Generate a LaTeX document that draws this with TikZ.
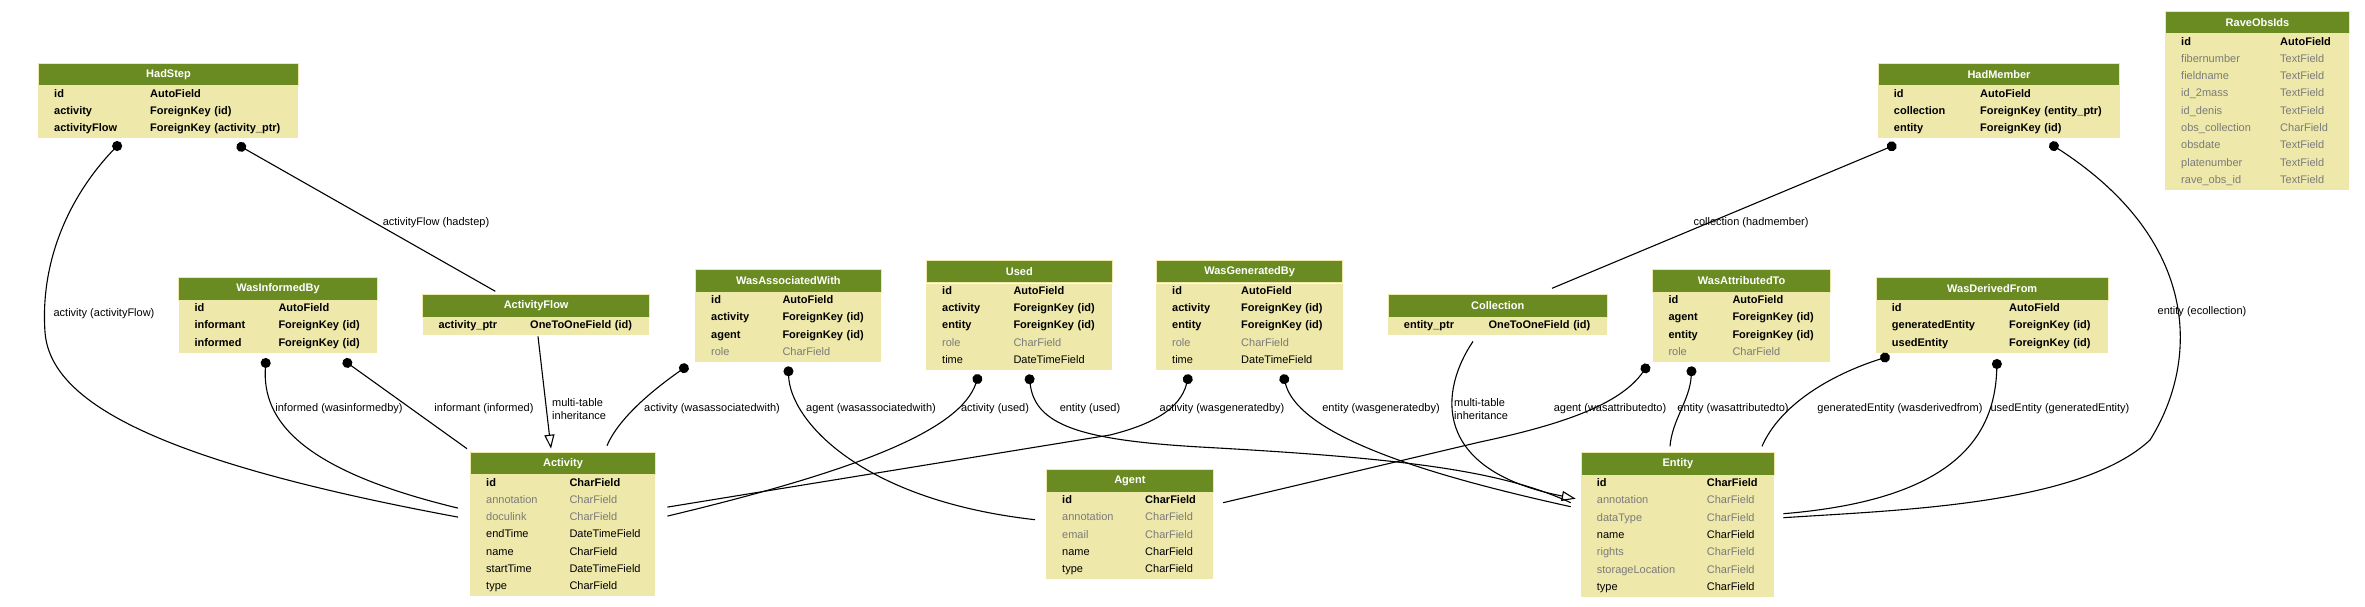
\documentclass[tikz,border=0pt]{standalone}
\usepackage{fontspec}
\setmainfont{Liberation Sans}
\usetikzlibrary{arrows.meta}
\definecolor{headfill}{HTML}{698B22}
\definecolor{bodyfill}{HTML}{EEE8AA}
\definecolor{blankgray}{HTML}{7B7B7B}
\newcommand{\rowfont}{\fontsize{11}{17.3}\selectfont}
\newcommand{\labelfont}{\fontsize{11}{12.5}\selectfont}
\newcommand{\keyrow}[2]{\textbf{#1} & \textbf{#2}\\}
\newcommand{\fieldrow}[2]{#1 & #2\\}
\newcommand{\blankrow}[2]{\textcolor{blankgray}{#1} & \textcolor{blankgray}{#2}\\}
\tikzset{
  modelhead/.style={draw=bodyfill, line width=1pt, fill=headfill, text=white,
    font=\bfseries\fontsize{11}{13}\selectfont, minimum height=22.4pt, inner sep=0pt, anchor=north west},
  modelbody/.style={fill=bodyfill, inner xsep=0pt, inner ysep=0pt, anchor=north west, font=\rowfont, align=left},
  fkedge/.style={line width=1.1pt, arrows={Circle[length=10pt]-}},
  inhedge/.style={line width=1.1pt, arrows={-Triangle[open, length=14pt, width=10pt]}},
  fklabel/.style={font=\labelfont, inner sep=0pt}
}
% #1 name, #2 top left, #3 width, #4 first column, #5 title, #6 rows
\newcommand{\djmodel}[6]{%
  \node[modelhead, minimum width=#3] (#1) at #2 {#5};
  \node[modelbody, text width=#3] (#1-body) at (#1.south west)
    {\noindent\raisebox{1.4pt}[\height][\depth]{\begin{tabular}{@{\hspace{16pt}}p{#4}@{}l@{}}#6\end{tabular}}};
}
\begin{document}
\begin{tikzpicture}[x=1pt, y=-1pt]
	\useasboundingbox (0,0) rectangle (2365,607);
	\djmodel{hadstep}{(38,62.7)}{260pt}{96pt}{HadStep}{\keyrow{id}{AutoField}\keyrow{activity}{ForeignKey (id)}\keyrow{activityFlow}{ForeignKey (activity\_ptr)}}
	\djmodel{wasinformedby}{(178.3,277.3)}{198.4pt}{84pt}{WasInformedBy}{\keyrow{id}{AutoField}\keyrow{informant}{ForeignKey (id)}\keyrow{informed}{ForeignKey (id)}}
	\djmodel{activityflow}{(422.3,294.3)}{226.7pt}{91.7pt}{ActivityFlow}{\keyrow{activity\_ptr}{OneToOneField (id)}}
	\djmodel{wasassociatedwith}{(695,269.3)}{185.7pt}{71.3pt}{WasAssociatedWith}{\keyrow{id}{AutoField}\keyrow{activity}{ForeignKey (id)}\keyrow{agent}{ForeignKey (id)}\blankrow{role}{CharField}}
	\djmodel{used}{(926,260)}{185.7pt}{71.3pt}{Used}{\keyrow{id}{AutoField}\keyrow{activity}{ForeignKey (id)}\keyrow{entity}{ForeignKey (id)}\blankrow{role}{CharField}\fieldrow{time}{DateTimeField}}
	\djmodel{wasgeneratedby}{(1156,260)}{186.3pt}{69pt}{WasGeneratedBy}{\keyrow{id}{AutoField}\keyrow{activity}{ForeignKey (id)}\keyrow{entity}{ForeignKey (id)}\blankrow{role}{CharField}\fieldrow{time}{DateTimeField}}
	\djmodel{collection}{(1387.7,294.3)}{219pt}{84.6pt}{Collection}{\keyrow{entity\_ptr}{OneToOneField (id)}}
	\djmodel{wasattributedto}{(1652.3,269.3)}{177.7pt}{64pt}{WasAttributedTo}{\keyrow{id}{AutoField}\keyrow{agent}{ForeignKey (id)}\keyrow{entity}{ForeignKey (id)}\blankrow{role}{CharField}}
	\djmodel{wasderivedfrom}{(1875.7,277.3)}{232pt}{117.3pt}{WasDerivedFrom}{\keyrow{id}{AutoField}\keyrow{generatedEntity}{ForeignKey (id)}\keyrow{usedEntity}{ForeignKey (id)}}
	\djmodel{hadmember}{(1877.7,62.7)}{241.6pt}{86.3pt}{HadMember}{\keyrow{id}{AutoField}\keyrow{collection}{ForeignKey (entity\_ptr)}\keyrow{entity}{ForeignKey (id)}}
	\djmodel{raveobsids}{(2165,10.7)}{184pt}{99pt}{RaveObsIds}{\keyrow{id}{AutoField}\blankrow{fibernumber}{TextField}\blankrow{fieldname}{TextField}\blankrow{id\_2mass}{TextField}\blankrow{id\_denis}{TextField}\blankrow{obs\_collection}{CharField}\blankrow{obsdate}{TextField}\blankrow{platenumber}{TextField}\blankrow{rave\_obs\_id}{TextField}}
	\djmodel{activity}{(470,451.7)}{185pt}{83.3pt}{Activity}{\keyrow{id}{CharField}\blankrow{annotation}{CharField}\blankrow{doculink}{CharField}\fieldrow{endTime}{DateTimeField}\fieldrow{name}{CharField}\fieldrow{startTime}{DateTimeField}\fieldrow{type}{CharField}}
	\djmodel{agent}{(1046,469.3)}{166.7pt}{83pt}{Agent}{\keyrow{id}{CharField}\blankrow{annotation}{CharField}\blankrow{email}{CharField}\fieldrow{name}{CharField}\fieldrow{type}{CharField}}
	\djmodel{entity}{(1580.7,452.3)}{193.3pt}{110pt}{Entity}{\keyrow{id}{CharField}\blankrow{annotation}{CharField}\blankrow{dataType}{CharField}\fieldrow{name}{CharField}\blankrow{rights}{CharField}\blankrow{storageLocation}{CharField}\fieldrow{type}{CharField}}

	% foreign keys
	\draw[fkedge] ([xshift=82.6pt,yshift=-4pt]hadstep-body.south west) .. controls (70,195) and (40,260) .. (45,332) .. controls (50,400) and (150,460) .. ([xshift=-12pt,yshift=-42pt]activity-body.north west);
	\draw[fkedge] ([xshift=199pt,yshift=-6pt]hadstep-body.south west) -- ([xshift=73pt,yshift=3pt]activityflow.north west);
	\draw[fkedge] ([xshift=87.7pt,yshift=-5pt]wasinformedby-body.south west) .. controls (262,420) and (300,470) .. ([xshift=-12pt,yshift=-33pt]activity-body.north west);
	\draw[fkedge] ([xshift=165pt,yshift=-7pt]wasinformedby-body.south west) -- ([xshift=-3pt,yshift=3pt]activity.north west);
	\draw[fkedge] ([xshift=-7pt,yshift=-3pt]wasassociatedwith-body.south west) .. controls (660,385) and (620,415) .. ([xshift=137pt,yshift=6pt]activity.north west);
	\draw[fkedge] ([xshift=93.3pt,yshift=-4pt]wasassociatedwith-body.south west) .. controls (790,420) and (860,500) .. ([xshift=-11pt,yshift=-27pt]agent-body.north west);
	\draw[fkedge] ([xshift=53pt,yshift=-4pt]used-body.south west) .. controls (960,430) and (860,470) .. ([xshift=12pt,yshift=-41pt]activity-body.north east);
	\draw[fkedge] ([xshift=103pt,yshift=-4pt]used-body.south west) .. controls (1035,425) and (1080,440) .. (1200,447) .. controls (1400,458) and (1500,470) .. ([xshift=-10pt,yshift=-27pt]entity-body.north west);
	\draw[fkedge] ([xshift=33pt,yshift=-4pt]wasgeneratedby-body.south west) .. controls (1180,410) and (1150,425) .. (1110,435) -- ([xshift=12pt,yshift=-32pt]activity-body.north east);
	\draw[fkedge] ([xshift=127pt,yshift=-4pt]wasgeneratedby-body.south west) .. controls (1300,440) and (1450,480) .. ([xshift=-10pt,yshift=-31pt]entity-body.north west);
	\draw[fkedge] ([xshift=-4pt,yshift=-2pt]wasattributedto-body.south west) .. controls (1620,405) and (1560,425) .. (1480,442) -- ([xshift=10pt,yshift=-10pt]agent-body.north east);
	\draw[fkedge] ([xshift=39.4pt,yshift=-4pt]wasattributedto-body.south west) .. controls (1690,400) and (1672,420) .. ([xshift=89.3pt,yshift=6pt]entity.north west);
	\draw[fkedge] ([xshift=14pt,yshift=-3pt]wasderivedfrom-body.south west) .. controls (1830,375) and (1780,405) .. ([xshift=181.3pt,yshift=6pt]entity.north west);
	\draw[fkedge] ([xshift=121.3pt,yshift=-6pt]wasderivedfrom-body.south west) .. controls (1995,440) and (1950,500) .. ([xshift=9pt,yshift=-38pt]entity-body.north east);
	\draw[fkedge] ([xshift=18.6pt,yshift=-6pt]hadmember-body.south west) -- ([xshift=164.3pt,yshift=6pt]collection.north west);
	\draw[fkedge] ([xshift=172pt,yshift=-5pt]hadmember-body.south west) .. controls (2200,240) and (2200,360) .. (2150,440) .. controls (2080,505) and (1900,510) .. ([xshift=9pt,yshift=-42pt]entity-body.north east);

	% inheritance
	\draw[inhedge] ([xshift=115.7pt,yshift=-1pt]activityflow-body.south west) -- ([xshift=81pt,yshift=3pt]activity.north west);
	\draw[inhedge] ([xshift=85.3pt,yshift=-6pt]collection-body.south west) .. controls (1440,390) and (1430,470) .. ([xshift=-5pt,yshift=-23pt]entity-body.north west);

	% labels
	\node[fklabel] (lbl-hs-act) at (104,314) {activity (activityFlow)};
	\node[fklabel] (lbl-hs-flow) at (436,223) {activityFlow (hadstep)};
	\node[fklabel] (lbl-wib-ed) at (339,409) {informed (wasinformedby)};
	\node[fklabel] (lbl-wib-ant) at (484,409) {informant (informed)};
	\node[fklabel, anchor=west, align=left] (lbl-af-inh) at (552,409) {multi-table\\inheritance};
	\node[fklabel] (lbl-waw-act) at (712,409) {activity (wasassociatedwith)};
	\node[fklabel] (lbl-waw-agt) at (871,409) {agent (wasassociatedwith)};
	\node[fklabel] (lbl-used-act) at (995,409) {activity (used)};
	\node[fklabel] (lbl-used-ent) at (1090,409) {entity (used)};
	\node[fklabel] (lbl-wgb-act) at (1222,409) {activity (wasgeneratedby)};
	\node[fklabel] (lbl-wgb-ent) at (1381,409) {entity (wasgeneratedby)};
	\node[fklabel, anchor=west, align=left] (lbl-col-inh) at (1454,409) {multi-table\\inheritance};
	\node[fklabel] (lbl-wat-agt) at (1610,409) {agent (wasattributedto)};
	\node[fklabel] (lbl-wat-ent) at (1733,409) {entity (wasattributedto)};
	\node[fklabel] (lbl-wdf-gen) at (1900,409) {generatedEntity (wasderivedfrom)};
	\node[fklabel] (lbl-wdf-used) at (2060,409) {usedEntity (generatedEntity)};
	\node[fklabel] (lbl-hm-ent) at (2202,312) {entity (ecollection)};
	\node[fklabel] (lbl-hm-col) at (1751,223) {collection (hadmember)};
\end{tikzpicture}
\end{document}
